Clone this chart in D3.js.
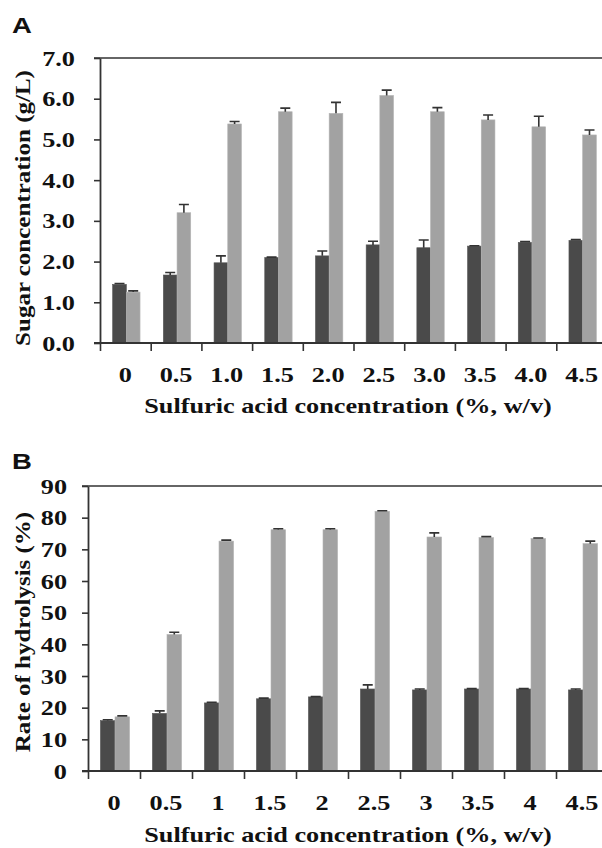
<!DOCTYPE html>
<html><head><meta charset="utf-8">
<script src="https://cdn.jsdelivr.net/npm/d3@7"></script>
<style>
html,body{margin:0;padding:0;background:#fff;}
svg{display:block;}
</style>
</head><body>
<svg id="chart" width="602" height="848"></svg>
<script>
// ---------- DATA ----------
const categoriesA = ["0","0.5","1.0","1.5","2.0","2.5","3.0","3.5","4.0","4.5"];
const categoriesB = ["0","0.5","1","1.5","2","2.5","3","3.5","4","4.5"];
const sugarDark = [1.44,1.67,1.97,2.10,2.14,2.41,2.34,2.38,2.47,2.52];
const sugarDarkErr = [0.02,0.06,0.17,0.01,0.12,0.09,0.19,0.01,0.02,0.02];
const sugarLight = [1.25,3.20,5.38,5.68,5.64,6.08,5.68,5.48,5.31,5.11];
const sugarLightErr = [0.03,0.20,0.06,0.09,0.27,0.13,0.10,0.12,0.26,0.12];
const rateDark = [15.9,18.2,21.5,22.8,23.4,25.9,25.6,25.9,25.9,25.6];
const rateDarkErr = [0.3,0.8,0.2,0.2,0.1,1.3,0.3,0.1,0.1,0.3];
const rateLight = [17.1,43.1,72.6,76.2,76.2,82.0,73.9,73.7,73.4,71.8];
const rateLightErr = [0.3,0.7,0.3,0.3,0.3,0.2,1.3,0.3,0.2,0.8];
const ticksA = [0,1,2,3,4,5,6,7];
const ticksB = [0,10,20,30,40,50,60,70,80,90];
const xTitle = "Sulfuric acid concentration (%, w/v)";
const yTitleA = "Sugar concentration (g/L)";
const yTitleB = "Rate of hydrolysis (%)";

// ---------- STYLE ----------
const SX = 1.25;            // horizontal stretch of the text in the reference
const serif = "'Liberation Serif','Times New Roman',serif";
const darkCol = "#4a4a4a", lightCol = "#a2a2a2";
const svg = d3.select("#chart");

function stretchedText(g, x, y, txt, opts) {
  const t = g.append("text")
    .attr("transform", `translate(${x},${y}) ${opts.rotate ? "rotate(-90) " : ""}scale(${SX},1)`)
    .attr("text-anchor", opts.anchor || "middle")
    .attr("font-family", opts.family || serif)
    .attr("font-weight", "bold")
    .attr("font-size", opts.size || 21)
    .attr("fill", "#111")
    .text(txt);
  return t;
}

function panel(cfg) {
  const g = svg.append("g");
  const x = d3.scaleBand().domain(cfg.cats).range([cfg.left, cfg.left + cfg.band * cfg.cats.length]);
  const xb = d3.scaleLinear().domain([0, cfg.cats.length]).range(x.range());
  const y = d3.scaleLinear().domain([0, cfg.ymax]).range([cfg.bottom, cfg.top]);
  const bw = cfg.band * cfg.barFrac;

  // top border line
  g.append("line").attr("x1", cfg.left - 6).attr("x2", 602).attr("y1", cfg.top).attr("y2", cfg.top)
    .attr("stroke", "#666").attr("stroke-width", 2);

  // bars
  const series = [
    {vals: cfg.dark, err: cfg.darkErr, col: darkCol, off: -bw},
    {vals: cfg.light, err: cfg.lightErr, col: lightCol, off: 0}
  ];
  series.forEach(s => {
    const cx = (c) => x(c) + x.bandwidth() / 2 + 1 + s.off;
    g.selectAll(null).data(cfg.cats).enter().append("rect")
      .attr("x", (c) => cx(c))
      .attr("y", (c, i) => y(s.vals[i]))
      .attr("width", bw)
      .attr("height", (c, i) => cfg.bottom - y(s.vals[i]))
      .attr("fill", s.col)
      .attr("stroke", s.col === lightCol ? "#b4b4b4" : "#555")
      .attr("stroke-width", 0.6);
    // error bars (upward only)
    g.selectAll(null).data(cfg.cats).enter().append("path")
      .attr("d", (c, i) => {
        const mx = cx(c) + bw / 2, y0 = y(s.vals[i]), y1 = y(s.vals[i] + s.err[i]);
        return `M${mx},${y0}V${y1}M${mx - 5},${y1}H${mx + 5}`;
      })
      .attr("stroke", "#333").attr("stroke-width", 1.6).attr("fill", "none");
  });

  // y axis
  const ya = g.append("g").attr("transform", `translate(${cfg.left},0)`)
    .call(d3.axisLeft(y).tickValues(cfg.yticks).tickFormat(cfg.yfmt).tickSize(6).tickSizeOuter(0));
  ya.select(".domain").attr("stroke", "#333").attr("stroke-width", 1.8);
  ya.selectAll(".tick line").attr("stroke", "#333").attr("stroke-width", 1.6);
  ya.selectAll(".tick text")
    .attr("x", null).attr("dy", null)
    .attr("transform", `translate(${-cfg.ylabGap},7) scale(${SX},1)`)
    .attr("text-anchor", "end")
    .attr("font-family", serif).attr("font-weight", "bold").attr("font-size", 21).attr("fill", "#111");

  // x axis: labels at band centres
  const xa = g.append("g").attr("transform", `translate(0,${cfg.bottom})`)
    .call(d3.axisBottom(x).tickSize(0).tickPadding(0));
  xa.select(".domain").remove();
  xa.selectAll(".tick text")
    .attr("y", null).attr("dy", null)
    .attr("transform", `translate(0,39) scale(${SX},1)`)
    .attr("font-family", serif).attr("font-weight", "bold").attr("font-size", 21).attr("fill", "#111");
  // x axis line + boundary ticks
  const xt = g.append("g").attr("transform", `translate(0,${cfg.bottom})`)
    .call(d3.axisBottom(xb).tickValues(d3.range(0, cfg.cats.length + 1)).tickFormat("").tickSize(8).tickSizeOuter(0));
  xt.select(".domain").attr("stroke", "#333").attr("stroke-width", 1.8)
    .attr("d", `M${cfg.left - 6},0H${xb.range()[1]}`);
  xt.selectAll(".tick line").attr("stroke", "#333").attr("stroke-width", 1.6);

  // titles
  stretchedText(g, 348, cfg.xTitleY, xTitle, {});
  stretchedText(g, cfg.yTitleX, cfg.yTitleY, cfg.yTitle, {rotate: true, size: 20});
  stretchedText(g, cfg.letterX, cfg.letterY, cfg.letter,
    {anchor: "start", family: "'Liberation Sans',Arial,sans-serif", size: 22});
}

panel({
  cats: categoriesA, dark: sugarDark, darkErr: sugarDarkErr, light: sugarLight, lightErr: sugarLightErr,
  left: 100, band: 50.7, barFrac: 0.27, top: 58, bottom: 343, ymax: 7,
  yticks: ticksA, yfmt: d3.format(".1f"), ylabGap: 25,
  xTitleY: 413, yTitle: yTitleA, yTitleX: 30, yTitleY: 208,
  letter: "A", letterX: 12, letterY: 33
});
panel({
  cats: categoriesB, dark: rateDark, darkErr: rateDarkErr, light: rateLight, lightErr: rateLightErr,
  left: 88, band: 52, barFrac: 0.28, top: 486, bottom: 771, ymax: 90,
  yticks: ticksB, yfmt: d3.format("d"), ylabGap: 21,
  xTitleY: 842, yTitle: yTitleB, yTitleX: 30, yTitleY: 632,
  letter: "B", letterX: 12, letterY: 469
});
</script>
</body></html>
